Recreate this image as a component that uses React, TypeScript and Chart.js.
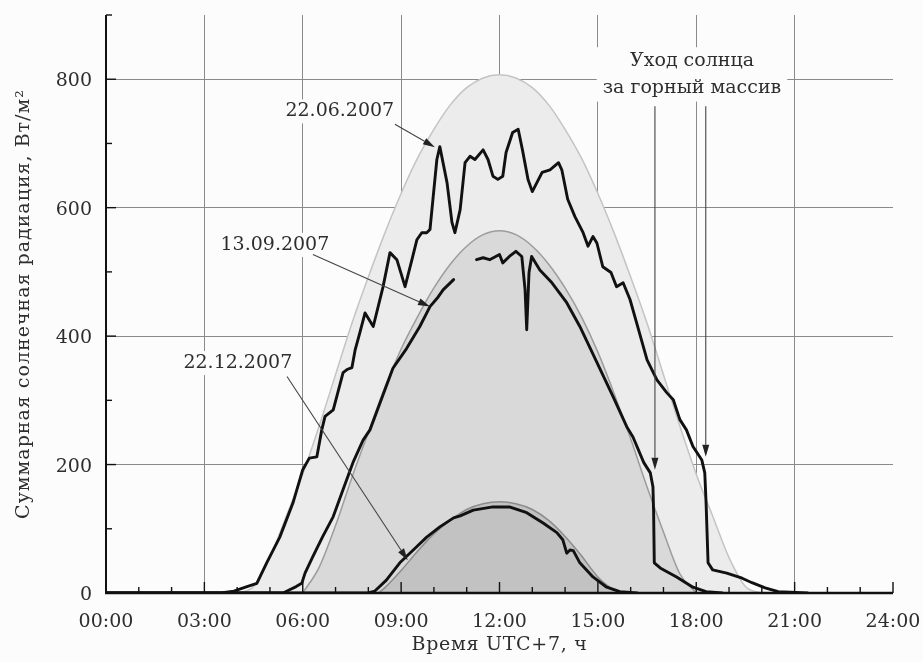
import React, { useEffect, useRef } from 'react';
import { Chart, registerables } from 'chart.js';

Chart.register(...registerables);

// ---- axis ticks ----
const xMajorHours = [0, 3, 6, 9, 12, 15, 18, 21, 24];
const xTickLabels = ['00:00', '03:00', '06:00', '09:00', '12:00', '15:00', '18:00', '21:00', '24:00'];
const yTickValues = [0, 200, 400, 600, 800];

// ---- clear-sky envelopes (model) ----
const envJuneT = [4, 4.5, 5, 5.5, 6, 6.5, 7, 7.5, 8, 8.5, 9, 9.5, 10, 10.5, 11, 11.5, 12, 12.5, 13, 13.5, 14, 14.5, 15, 15.5, 16, 16.5, 17, 17.5, 18, 18.5, 19, 19.5, 20];
const envJuneV = [0, 10, 55, 120, 185, 260, 340, 420, 492, 560, 622, 677, 722, 760, 787, 802, 807, 802, 787, 760, 722, 677, 622, 560, 492, 420, 340, 260, 185, 120, 55, 10, 0];

const envSeptT = [6, 6.5, 7, 7.5, 8, 8.5, 9, 9.5, 10, 10.5, 11, 11.5, 12, 12.5, 13, 13.5, 14, 14.5, 15, 15.5, 16, 16.5, 17, 17.5, 18];
const envSeptV = [0, 40, 105, 180, 250, 320, 380, 430, 475, 512, 540, 558, 564, 558, 540, 512, 475, 430, 375, 310, 240, 165, 95, 30, 0];

const envDecT = [8.3, 8.5, 9, 9.5, 10, 10.5, 11, 11.5, 12, 12.5, 13, 13.5, 14, 14.5, 15, 15.5, 15.9];
const envDecV = [0, 8, 35, 65, 92, 113, 130, 139, 142, 139, 130, 113, 88, 58, 25, 5, 0];

// ---- measured: 22.06.2007 ----
const juneT = [0, 3.5, 3.9, 4.3, 4.6, 4.9, 5.3, 5.7, 6.0, 6.2, 6.43, 6.58, 6.68, 6.93, 7.23, 7.35, 7.5, 7.6, 7.74, 7.9, 8.15, 8.45, 8.66, 8.87, 9.12, 9.33, 9.48, 9.63, 9.78, 9.88, 9.97, 10.09, 10.18, 10.4, 10.55, 10.64, 10.8, 10.95, 11.1, 11.25, 11.5, 11.65, 11.8, 11.95, 12.1, 12.2, 12.4, 12.57, 12.7, 12.87, 13.0, 13.3, 13.54, 13.8, 13.9, 14.08, 14.3, 14.55, 14.7, 14.85, 14.97, 15.15, 15.4, 15.57, 15.77, 15.98, 16.18, 16.5, 16.8, 17.1, 17.3, 17.5, 17.7, 17.9, 18.17, 18.26, 18.3, 18.36, 18.5, 18.93, 19.4, 19.7, 20.1, 20.5, 21.4];
const juneV = [0, 0, 3, 10, 15, 47, 87, 140, 192, 210, 212, 254, 275, 285, 343, 348, 351, 379, 405, 436, 415, 477, 530, 519, 477, 519, 550, 561, 561, 566, 613, 675, 695, 639, 577, 561, 597, 670, 680, 675, 690, 675, 649, 644, 649, 686, 717, 722, 690, 644, 625, 655, 659, 670, 659, 613, 586, 561, 540, 555, 545, 508, 499, 477, 483, 457, 421, 363, 332, 312, 301, 270, 254, 228, 207, 187, 140, 47, 36, 31, 23, 16, 8, 2, 0];

// ---- measured: 13.09.2007 (null = gap in record) ----
const septT = [0, 5.4, 5.6, 5.8, 5.97, 6.07, 6.3, 6.6, 6.93, 7.23, 7.53, 7.84, 8.05, 8.35, 8.75, 9.17, 9.57, 9.88, 10.13, 10.28, 10.6, 10.9, 11.3, 11.5, 11.7, 12.0, 12.1, 12.3, 12.5, 12.68, 12.78, 12.83, 12.9, 12.98, 13.23, 13.6, 14.05, 14.45, 14.97, 15.46, 15.88, 16.07, 16.4, 16.6, 16.68, 16.7, 16.72, 16.9, 17.4, 17.9, 18.3, 18.8];
const septV = [0, 0, 5, 10, 15, 31, 56, 87, 119, 161, 203, 238, 254, 295, 350, 381, 415, 446, 461, 472, 488, null, 519, 522, 519, 527, 514, 524, 532, 524, 472, 410, 499, 524, 503, 483, 452, 415, 359, 306, 259, 243, 203, 187, 165, 125, 47, 39, 25, 9, 2, 0];

// ---- measured: 22.12.2007 ----
const decT = [0, 8.0, 8.2, 8.55, 8.96, 9.37, 9.78, 10.18, 10.6, 10.8, 11.2, 11.8, 12.3, 12.83, 13.33, 13.75, 13.93, 14.05, 14.15, 14.25, 14.45, 14.85, 15.27, 15.67, 16.2];
const decV = [0, 0, 3, 20, 47, 67, 87, 103, 117, 120, 129, 134, 134, 125, 109, 94, 83, 62, 67, 66, 47, 25, 9, 2, 0];

const pts = (t: number[], v: (number | null)[]) => t.map((x, i) => ({ x, y: v[i] }));

const FONT = '"DejaVu Serif", serif';
const TEXT = '#2e2e2e';
const BG = '#fcfcfc';

// annotations in data coordinates
const dateLabels = [
  { text: '22.06.2007', at: [7.13, 750], from: [8.81, 730], to: [10.03, 694] },
  { text: '13.09.2007', at: [5.15, 542], from: [6.31, 527], to: [9.88, 446] },
  { text: '22.12.2007', at: [4.02, 358], from: [5.52, 337], to: [9.2, 51] },
];
const sunsetLines = ['Уход солнца', 'за горный массив'];
const sunsetAt = [17.87, 828, 787];
const sunsetArrows = [
  { t: 16.74, from: 758, to: 192 },
  { t: 18.29, from: 758, to: 212 },
];

function drawArrow(ctx: CanvasRenderingContext2D, x1: number, y1: number, x2: number, y2: number) {
  const a = Math.atan2(y2 - y1, x2 - x1);
  const len = 12, hw = 3.5;
  const bx = x2 - len * Math.cos(a), by = y2 - len * Math.sin(a);
  ctx.beginPath();
  ctx.moveTo(x1, y1);
  ctx.lineTo(bx, by);
  ctx.stroke();
  ctx.beginPath();
  ctx.moveTo(x2, y2);
  ctx.lineTo(bx + hw * Math.sin(a), by - hw * Math.cos(a));
  ctx.lineTo(bx - hw * Math.sin(a), by + hw * Math.cos(a));
  ctx.closePath();
  ctx.fill();
}

const decor = {
  id: 'decor',
  beforeDraw(chart: any) {
    const { ctx, width, height } = chart;
    ctx.save();
    ctx.fillStyle = BG;
    ctx.fillRect(0, 0, width, height);
    ctx.restore();
  },
  afterDatasetsDraw(chart: any) {
    const { ctx, chartArea: ca, scales } = chart;
    const x = scales.x, y = scales.y;
    ctx.save();
    // axes
    ctx.strokeStyle = '#111';
    ctx.lineWidth = 2;
    ctx.beginPath();
    ctx.moveTo(ca.left, ca.top);
    ctx.lineTo(ca.left, ca.bottom);
    ctx.stroke();
    ctx.lineWidth = 2.5;
    ctx.beginPath();
    ctx.moveTo(ca.left - 1, ca.bottom);
    ctx.lineTo(ca.right, ca.bottom);
    ctx.stroke();
    // inward ticks
    ctx.lineWidth = 1.4;
    for (let h = 1; h <= 24; h++) {
      const px = x.getPixelForValue(h);
      const L = h % 3 === 0 ? 11 : 6;
      ctx.beginPath();
      ctx.moveTo(px, ca.bottom);
      ctx.lineTo(px, ca.bottom - L);
      ctx.stroke();
    }
    for (let v = 100; v <= 900; v += 100) {
      const py = y.getPixelForValue(v);
      const L = v % 200 === 0 ? 10 : 6;
      ctx.beginPath();
      ctx.moveTo(ca.left, py);
      ctx.lineTo(ca.left + L, py);
      ctx.stroke();
    }
    // tick labels
    ctx.font = `19px ${FONT}`;
    ctx.fillStyle = TEXT;
    ctx.textAlign = 'center';
    ctx.textBaseline = 'alphabetic';
    xMajorHours.forEach((h, i) => {
      ctx.fillText(xTickLabels[i], x.getPixelForValue(h), ca.bottom + 34);
    });
    ctx.textAlign = 'right';
    yTickValues.forEach((v) => {
      ctx.fillText(String(v), ca.left - 14, y.getPixelForValue(v) + 7);
    });
    // date labels with arrows
    ctx.textAlign = 'center';
    ctx.textBaseline = 'middle';
    for (const d of dateLabels) {
      const cx = x.getPixelForValue(d.at[0]);
      const cy = y.getPixelForValue(d.at[1]);
      const w = ctx.measureText(d.text).width;
      ctx.fillStyle = BG;
      ctx.fillRect(cx - w / 2 - 3, cy - 12, w + 6, 24);
      ctx.fillStyle = TEXT;
      ctx.fillText(d.text, cx, cy);
      ctx.strokeStyle = '#444';
      ctx.fillStyle = '#222';
      ctx.lineWidth = 1.1;
      drawArrow(ctx, x.getPixelForValue(d.from[0]), y.getPixelForValue(d.from[1]), x.getPixelForValue(d.to[0]), y.getPixelForValue(d.to[1]));
    }
    // sunset annotation
    const sx = x.getPixelForValue(sunsetAt[0]);
    const sy1 = y.getPixelForValue(sunsetAt[1]);
    const sy2 = y.getPixelForValue(sunsetAt[2]);
    const bw = Math.max(...sunsetLines.map((s) => ctx.measureText(s).width));
    ctx.fillStyle = BG;
    ctx.fillRect(sx - bw / 2 - 6, sy1 - 14, bw + 12, sy2 - sy1 + 28);
    ctx.fillStyle = TEXT;
    ctx.fillText(sunsetLines[0], sx, sy1);
    ctx.fillText(sunsetLines[1], sx, sy2);
    ctx.strokeStyle = '#444';
    ctx.fillStyle = '#222';
    ctx.lineWidth = 1.1;
    for (const a of sunsetArrows) {
      const px = x.getPixelForValue(a.t);
      drawArrow(ctx, px, y.getPixelForValue(a.from), px, y.getPixelForValue(a.to));
    }
    // axis titles
    ctx.fillStyle = TEXT;
    ctx.font = `19px ${FONT}`;
    (ctx as any).letterSpacing = '0.7px';
    ctx.fillText('Время UTC+7, ч', (ca.left + ca.right) / 2, 645);
    (ctx as any).letterSpacing = '1px';
    ctx.translate(24, (ca.top + ca.bottom) / 2);
    ctx.rotate(-Math.PI / 2);
    ctx.fillText('Суммарная солнечная радиация, Вт/м²', 0, 0);
    ctx.restore();
  },
};

export default function App() {
  const ref = useRef<HTMLCanvasElement | null>(null);
  useEffect(() => {
    if (!ref.current) return;
    const envStyle = (fill: string, border: string, order: number) => ({
      fill: 'origin',
      backgroundColor: fill,
      borderColor: border,
      borderWidth: 1.5,
      pointRadius: 0,
      cubicInterpolationMode: 'monotone' as const,
      order,
    });
    const lineStyle = (order: number) => ({
      fill: false,
      borderColor: '#111',
      borderWidth: 2.9,
      pointRadius: 0,
      tension: 0,
      spanGaps: false,
      borderJoinStyle: 'round' as const,
      borderCapStyle: 'round' as const,
      order,
    });
    const chart = new Chart(ref.current, {
      type: 'line',
      data: {
        datasets: [
          { label: 'env 22.06', data: pts(envJuneT, envJuneV), ...envStyle('#ececec', '#c4c4c4', 6) },
          { label: 'env 13.09', data: pts(envSeptT, envSeptV), ...envStyle('#d9d9d9', '#9c9c9c', 5) },
          { label: 'env 22.12', data: pts(envDecT, envDecV), ...envStyle('#c2c2c2', '#8c8c8c', 4) },
          { label: '22.06.2007', data: pts(juneT, juneV), ...lineStyle(3) },
          { label: '13.09.2007', data: pts(septT, septV), ...lineStyle(2) },
          { label: '22.12.2007', data: pts(decT, decV), ...lineStyle(1) },
        ] as any,
      },
      options: {
        animation: false,
        responsive: true,
        maintainAspectRatio: false,
        layout: { padding: { left: 0, top: 15, right: 30, bottom: 0 } },
        plugins: { legend: { display: false }, tooltip: { enabled: false } },
        scales: {
          x: {
            type: 'linear',
            min: 0,
            max: 24,
            border: { display: false },
            grid: {
              drawTicks: false,
              lineWidth: 1,
              color: (c: any) => {
                const v = c.tick ? c.tick.value : 0;
                return v % 3 === 0 && v > 0 && v < 24 ? '#8a8a8a' : 'rgba(0,0,0,0)';
              },
            },
            ticks: { stepSize: 1, autoSkip: false, display: false },
            afterFit: (s: any) => { s.height = 69; },
          },
          y: {
            type: 'linear',
            min: 0,
            max: 900,
            border: { display: false },
            grid: {
              drawTicks: false,
              lineWidth: 1,
              color: (c: any) => {
                const v = c.tick ? c.tick.value : 0;
                return v % 200 === 0 && v > 0 ? '#8a8a8a' : 'rgba(0,0,0,0)';
              },
            },
            ticks: { stepSize: 100, autoSkip: false, display: false },
            afterFit: (s: any) => { s.width = 106; },
          },
        },
      } as any,
      plugins: [decor],
    });
    return () => chart.destroy();
  }, []);
  return (
    <div style={{ position: 'fixed', left: 0, top: 0, width: 923, height: 662, background: BG }}>
      <canvas ref={ref} />
    </div>
  );
}
